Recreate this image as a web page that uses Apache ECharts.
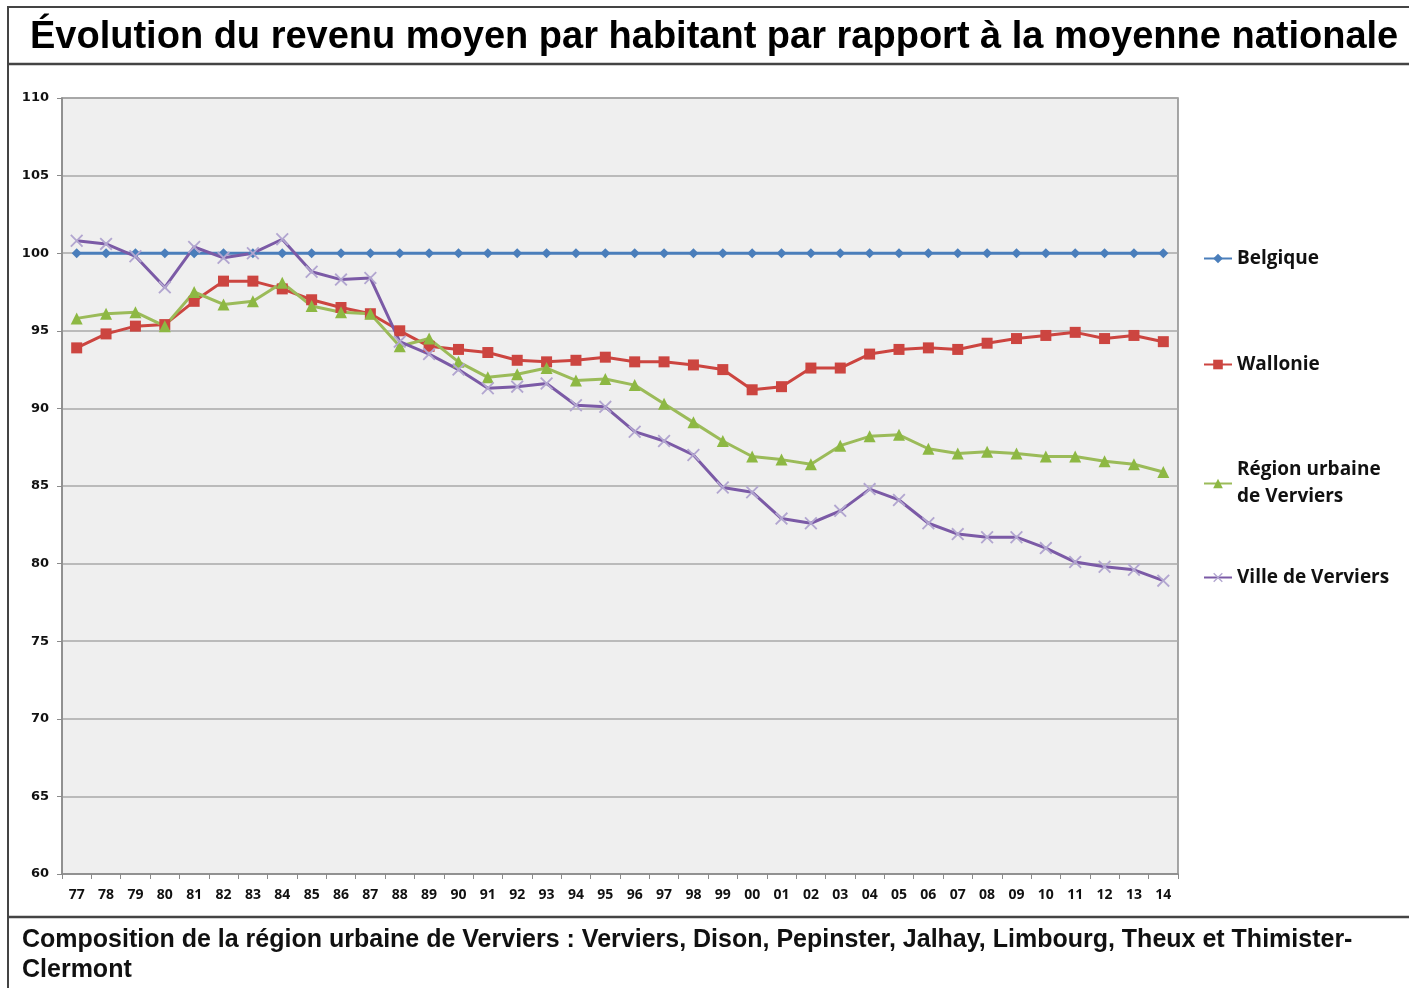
<!DOCTYPE html>
<html>
<head>
<meta charset="utf-8">
<script src="https://cdn.jsdelivr.net/npm/echarts@6/dist/echarts.min.js"></script>
<style>
  html, body { margin: 0; padding: 0; background: #fff; }
  #chart { width: 1409px; height: 988px; }
</style>
</head>
<body>
<div id="chart"></div>
<script>
// années (77 -> 14)
const years = ['77', '78', '79', '80', '81', '82', '83', '84', '85', '86', '87', '88', '89', '90', '91', '92', '93', '94', '95',
  '96', '97', '98', '99', '00', '01', '02', '03', '04', '05', '06', '07', '08', '09', '10', '11', '12', '13', '14']

const belgique = [100, 100, 100, 100, 100, 100, 100, 100, 100, 100, 100, 100, 100, 100, 100, 100, 100, 100, 100,
  100, 100, 100, 100, 100, 100, 100, 100, 100, 100, 100, 100, 100, 100, 100, 100, 100, 100, 100]

const wallonie = [93.9, 94.8, 95.3, 95.4, 96.9, 98.2, 98.2, 97.7, 97.0, 96.5, 96.1, 95.0, 94.0, 93.8, 93.6, 93.1, 93.0, 93.1, 93.3,
  93.0, 93.0, 92.8, 92.5, 91.2, 91.4, 92.6, 92.6, 93.5, 93.8, 93.9, 93.8, 94.2, 94.5, 94.7, 94.9, 94.5, 94.7, 94.3]

const regionUrbaine = [95.8, 96.1, 96.2, 95.3, 97.5, 96.7, 96.9, 98.1, 96.6, 96.2, 96.1, 94.0, 94.5, 93.0, 92.0, 92.2, 92.6, 91.8, 91.9,
  91.5, 90.3, 89.1, 87.9, 86.9, 86.7, 86.4, 87.6, 88.2, 88.3, 87.4, 87.1, 87.2, 87.1, 86.9, 86.9, 86.6, 86.4, 85.9]

const villeVerviers = [100.8, 100.6, 99.8, 97.8, 100.4, 99.7, 100.0, 100.9, 98.8, 98.3, 98.4, 94.3, 93.5, 92.5, 91.3, 91.4, 91.6, 90.2, 90.1,
  88.5, 87.9, 87.0, 84.9, 84.6, 82.9, 82.6, 83.4, 84.8, 84.1, 82.6, 81.9, 81.7, 81.7, 81.0, 80.1, 79.8, 79.6, 78.9]

const yTicks = { min: 60, max: 110, interval: 5 }

const chart = echarts.init(document.getElementById('chart'))

// petite croix pleine pour la ville de Verviers
const crossPath = 'path://M0,1L1,0L5,4L9,0L10,1L6,5L10,9L9,10L5,6L1,10L0,9L4,5Z'

const legendText = {
  fontFamily: 'Open Sans',
  fontWeight: 'bold',
  fontSize: 19,
  color: '#111'
}

const option = {
  animation: false,
  backgroundColor: '#fff',
  grid: {
    left: 62,
    right: 231,
    top: 98,
    bottom: 114,
    show: true,
    backgroundColor: '#efefef',
    borderColor: '#8a8a8a',
    borderWidth: 1.5
  },
  legend: [
    { data: ['Belgique'], top: 249, left: 1203 },
    { data: ['Wallonie'], top: 355, left: 1203 },
    { data: ['Région urbaine de Verviers'], top: 443, left: 1203, formatter: () => 'Région urbaine\nde Verviers', textStyle: Object.assign({}, legendText, { lineHeight: 27, padding: [27, 0, 0, 0] }) },
    { data: ['Ville de Verviers'], top: 568, left: 1203 }
  ].map(l => Object.assign({
    orient: 'vertical',
    padding: 0,
    itemWidth: 28,
    itemHeight: 12,
    itemGap: 4,
    selectedMode: false,
    textStyle: legendText
  }, l)),
  xAxis: {
    type: 'category',
    data: years,
    boundaryGap: true,
    axisLine: { lineStyle: { color: '#8a8a8a', width: 1.5 } },
    axisTick: { show: true, length: 5, lineStyle: { color: '#8a8a8a' } },
    axisLabel: {
      interval: 0,
      margin: 14,
      fontFamily: 'Open Sans',
      fontWeight: 'bold',
      fontSize: 14,
      color: '#111'
    }
  },
  yAxis: {
    type: 'value',
    min: yTicks.min,
    max: yTicks.max,
    interval: yTicks.interval,
    axisLine: { show: true, lineStyle: { color: '#8a8a8a', width: 1.5 } },
    axisTick: { show: true, length: 5, lineStyle: { color: '#8a8a8a' } },
    splitLine: { lineStyle: { color: '#a8a8a8', width: 1.5 } },
    axisLabel: {
      margin: 13,
      fontFamily: 'DejaVu Sans',
      fontWeight: 'bold',
      fontSize: 13,
      color: '#111'
    }
  },
  series: [
    {
      name: 'Belgique',
      type: 'line',
      data: belgique,
      symbol: 'diamond',
      symbolSize: 10,
      lineStyle: { color: '#4a7ebb', width: 3 },
      itemStyle: { color: '#4a7ebb' }
    },
    {
      name: 'Wallonie',
      type: 'line',
      data: wallonie,
      symbol: 'rect',
      symbolSize: 11,
      lineStyle: { color: '#cc4540', width: 3 },
      itemStyle: { color: '#cc4540' }
    },
    {
      name: 'Région urbaine de Verviers',
      type: 'line',
      data: regionUrbaine,
      symbol: 'triangle',
      symbolSize: 12,
      lineStyle: { color: '#9bbb59', width: 3 },
      itemStyle: { color: '#8db843' }
    },
    {
      name: 'Ville de Verviers',
      type: 'line',
      data: villeVerviers,
      symbol: crossPath,
      symbolSize: 13,
      lineStyle: { color: '#7b5aa6', width: 3 },
      itemStyle: { color: '#b2a6d0' }
    }
  ],
  // cadre, titre et note en bas
  graphic: [
    { type: 'rect', shape: { x: 8, y: 7, width: 1412, height: 990 }, style: { fill: null, stroke: '#444', lineWidth: 2 }, silent: true },
    { type: 'line', shape: { x1: 8, y1: 64, x2: 1409, y2: 64 }, style: { stroke: '#444', lineWidth: 2.5 }, silent: true },
    { type: 'line', shape: { x1: 8, y1: 917, x2: 1409, y2: 917 }, style: { stroke: '#444', lineWidth: 2.5 }, silent: true },
    {
      type: 'text',
      left: 30,
      top: 19,
      style: {
        text: 'Évolution du revenu moyen par habitant par rapport à la moyenne nationale',
        font: 'bold 38px "Liberation Sans", Arial, sans-serif',
        fill: '#000'
      }
    },
    {
      type: 'text',
      left: 22,
      top: 925,
      style: {
        text: 'Composition de la région urbaine de Verviers : Verviers, Dison, Pepinster, Jalhay, Limbourg, Theux et Thimister-\nClermont',
        font: 'bold 25px "Liberation Sans", Arial, sans-serif',
        lineHeight: 30,
        fill: '#111'
      }
    }
  ]
}

chart.setOption(option)
</script>
</body>
</html>
